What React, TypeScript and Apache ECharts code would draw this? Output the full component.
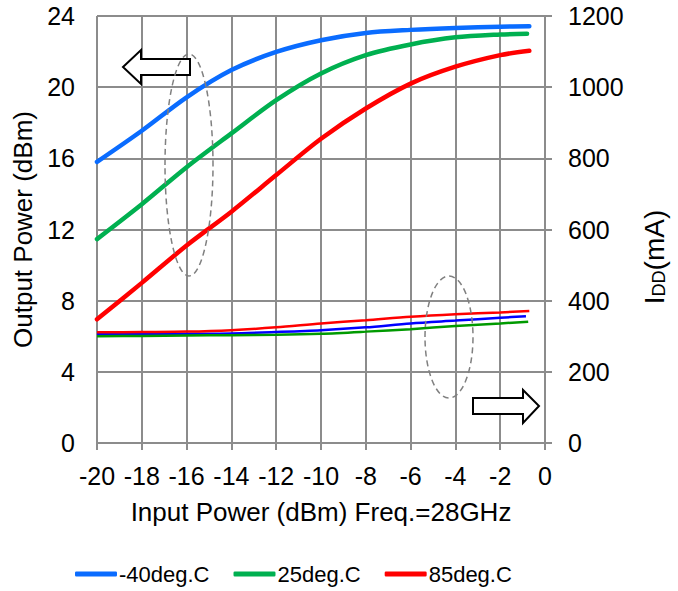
import React, { useEffect, useRef } from "react";
import * as echarts from "echarts";

// Input power (dBm) sample points
const pinBlue = [-20, -18, -16, -14, -12, -10, -8, -6, -4, -2, -0.7];
const pinGreen = [-20, -18, -16, -14, -12, -10, -8, -6, -4, -2, -0.8];
const pinRed = [-20, -18, -16, -14, -12, -10, -8, -6, -4, -2, -0.7];

// Output power (dBm)
const poutM40 = [15.8, 17.55, 19.43, 20.96, 21.98, 22.64, 23.05, 23.22, 23.33, 23.4, 23.43];
const pout25 = [11.46, 13.42, 15.5, 17.4, 19.27, 20.77, 21.8, 22.4, 22.8, 22.96, 23.0];
const pout85 = [6.95, 9.0, 11.1, 13.0, 15.06, 17.1, 18.8, 20.2, 21.15, 21.8, 22.05];

// IDD (mA)
const pinIddBlue = [-20, -18, -16, -14, -12, -10, -8, -6, -4, -2, -0.85];
const pinIddGreen = [-20, -18, -16, -14, -12, -10, -8, -6, -4, -2, -0.75];
const pinIddRed = [-20, -18, -16, -14, -12, -10, -8, -6, -4, -2, -0.7];
const iddM40 = [306, 306, 307, 308, 312, 317, 325, 336, 344, 352, 356];
const idd25 = [300, 301, 302, 303, 304, 307, 313, 320, 329, 336, 341];
const idd85 = [311, 312, 313, 317, 325, 336, 345, 355, 362, 367, 371];

const legendNames = ["-40deg.C", "25deg.C", "85deg.C"];

const FONT = "'Liberation Sans', Arial, sans-serif";
const GRID_COLOR = "#8c8c8c";

const zip = (xs: number[], ys: number[]) => xs.map((x, i) => [x, ys[i]]);

export default function App() {
  const ref = useRef<HTMLDivElement>(null);

  useEffect(() => {
    if (!ref.current) return;
    const chart = echarts.init(ref.current, null, { renderer: "svg" });

    const poutSeries = (name: string, xs: number[], ys: number[], color: string) => ({
      name,
      type: "line",
      yAxisIndex: 0,
      data: zip(xs, ys),
      smooth: 0.3,
      symbol: "none",
      lineStyle: { color, width: 4.5, cap: "round" },
      itemStyle: { color },
      z: 3,
    });
    const iddSeries = (name: string, xs: number[], ys: number[], color: string) => ({
      name,
      type: "line",
      yAxisIndex: 1,
      data: zip(xs, ys),
      smooth: 0.3,
      symbol: "none",
      lineStyle: { color, width: 2.5 },
      itemStyle: { color },
      z: 2,
    });

    const option: any = {
      animation: false,
      backgroundColor: "#ffffff",
      textStyle: { fontFamily: FONT, color: "#000" },
      grid: { left: 97, right: 133, top: 16, bottom: 148, containLabel: false },
      legend: {
        data: legendNames,
        left: 70,
        top: 558,
        icon: "roundRect",
        itemWidth: 42,
        itemHeight: 5,
        itemGap: 24,
        textStyle: { fontFamily: FONT, fontSize: 22, color: "#000", padding: [0, 0, 0, -3] },
      },
      xAxis: {
        type: "value",
        min: -20,
        max: 0,
        interval: 2,
        name: "Input Power (dBm) Freq.=28GHz",
        nameLocation: "middle",
        nameGap: 56,
        nameTextStyle: { fontFamily: FONT, fontSize: 26, color: "#000" },
        axisLine: { show: true, onZero: false, lineStyle: { color: GRID_COLOR, width: 2 } },
        axisTick: { show: true, inside: false, length: 7, lineStyle: { color: GRID_COLOR, width: 2 } },
        axisLabel: { fontFamily: FONT, fontSize: 25, color: "#000", margin: 20 },
        splitLine: { show: true, lineStyle: { color: GRID_COLOR, width: 2 } },
      },
      yAxis: [
        {
          type: "value",
          min: 0,
          max: 24,
          interval: 4,
          position: "left",
          name: "Output Power (dBm)",
          nameLocation: "middle",
          nameGap: 58,
          nameTextStyle: { fontFamily: FONT, fontSize: 26, color: "#000" },
          axisLine: { show: true, lineStyle: { color: GRID_COLOR, width: 2 } },
          axisTick: { show: true, inside: false, length: 7, lineStyle: { color: GRID_COLOR, width: 2 } },
          axisLabel: { fontFamily: FONT, fontSize: 25, color: "#000", margin: 22 },
          splitLine: { show: true, lineStyle: { color: GRID_COLOR, width: 2 } },
        },
        {
          type: "value",
          min: 0,
          max: 1200,
          interval: 200,
          position: "right",
          axisLine: { show: true, lineStyle: { color: GRID_COLOR, width: 2 } },
          axisTick: { show: true, inside: false, length: 7, lineStyle: { color: GRID_COLOR, width: 2 } },
          axisLabel: {
            fontFamily: FONT,
            fontSize: 25,
            color: "#000",
            margin: 23,
            formatter: (v: number) => String(v),
          },
          splitLine: { show: false },
        },
      ],
      series: [
        poutSeries(legendNames[0], pinBlue, poutM40, "#0a6cff"),
        poutSeries(legendNames[1], pinGreen, pout25, "#00b050"),
        poutSeries(legendNames[2], pinRed, pout85, "#ff0000"),
        iddSeries("IDD -40deg.C", pinIddBlue, iddM40, "#0000ff"),
        iddSeries("IDD 25deg.C", pinIddGreen, idd25, "#009a00"),
        iddSeries("IDD 85deg.C", pinIddRed, idd85, "#ff0000"),
      ],
      graphic: [
        {
          type: "polygon",
          z: 100,
          shape: { points: [[123, 67], [141, 50], [141, 59], [190, 59], [190, 75], [141, 75], [141, 84]] },
          style: { fill: "#fff", stroke: "#000", lineWidth: 2 },
        },
        {
          type: "polygon",
          z: 100,
          shape: { points: [[473, 398], [523, 398], [523, 390], [539, 406], [523, 423], [523, 414], [473, 414]] },
          style: { fill: "#fff", stroke: "#000", lineWidth: 2 },
        },
        {
          type: "ellipse",
          z: 100,
          shape: { cx: 189, cy: 165, rx: 24, ry: 111 },
          style: { fill: "none", stroke: "#808080", lineWidth: 1.5, lineDash: [6, 4] },
        },
        {
          type: "ellipse",
          z: 100,
          shape: { cx: 449, cy: 337, rx: 24, ry: 61 },
          style: { fill: "none", stroke: "#808080", lineWidth: 1.5, lineDash: [6, 4] },
        },
        {
          type: "text",
          z: 100,
          x: 653,
          y: 257,
          rotation: Math.PI / 2,
          style: {
            text: "{a|I}{b|DD}{a|(mA)}",
            align: "center",
            verticalAlign: "middle",
            fill: "#000",
            rich: {
              a: { fontFamily: FONT, fontSize: 28, fill: "#000", verticalAlign: "bottom", lineHeight: 30 },
              b: { fontFamily: FONT, fontSize: 18, fill: "#000", verticalAlign: "bottom", lineHeight: 25 },
            },
          },
        },
      ],
    };

    chart.setOption(option);
    return () => chart.dispose();
  }, []);

  return <div ref={ref} style={{ width: 678, height: 591, position: "absolute", left: 0, top: 0 }} />;
}
